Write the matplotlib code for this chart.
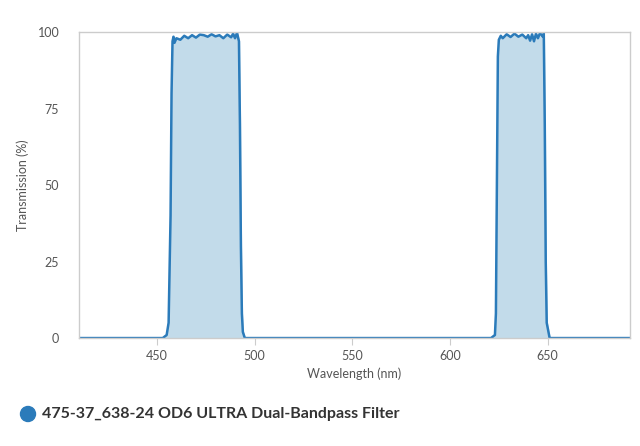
import matplotlib.pyplot as plt

plt.rcParams['font.family'] = ['Lato', 'DejaVu Sans']

wavelength = [410, 453, 455, 456, 457, 457.5, 458, 458.5, 459, 460, 462, 464, 466, 468, 470,
              472, 474, 476, 478, 480, 482, 484, 486, 488, 489, 490, 491, 492, 492.5,
              493, 493.5, 494, 495,
              621, 623, 623.5, 624, 624.5, 625, 626, 627, 629, 631, 633, 635, 637, 639,
              640, 641, 642, 643, 644, 645, 646, 647, 647.5, 648, 648.5, 649, 649.5, 651, 692]
transmission = [0, 0, 1, 5, 40, 80, 97, 98.5, 96.5, 98, 97.5, 98.8, 98, 99, 98.2,
                99.2, 99, 98.5, 99.3, 98.6, 99, 98, 99.2, 98.3, 99.5, 98, 99.8, 97, 70,
                30, 8, 2, 0,
                0, 1, 8, 50, 92, 97.5, 98.8, 98, 99.3, 98.4, 99.5, 98.5, 99.2, 98,
                99, 97.2, 99.3, 97, 99.5, 98, 99.6, 99, 98.5, 99.5, 70, 25, 5, 0, 0]
label = "475-37_638-24 OD6 ULTRA Dual-Bandpass Filter"

fig = plt.figure(figsize=(6.4, 4.46), dpi=100)
ax = fig.add_axes([0.123, 0.242, 0.861, 0.686])

line_color = "#2b7bba"
ax.fill_between(wavelength, transmission, 0, color="#c2dbea")
ax.plot(wavelength, transmission, color=line_color, lw=1.8)

ax.set_xlim(410, 692)
ax.set_ylim(0, 100)
ax.set_xticks([450, 500, 550, 600, 650])
ax.set_yticks([0, 25, 50, 75, 100])
ax.tick_params(axis='x', length=5, color="#cccccc", colors="#555555", labelsize=9)
ax.tick_params(axis='y', length=0, colors="#555555", labelsize=9, pad=14)
for s in ax.spines.values():
    s.set_color("#cccccc")
    s.set_linewidth(1)
ax.set_xlabel("Wavelength (nm)", color="#555555", fontsize=9)
ax.set_ylabel("Transmission (%)", color="#555555", fontsize=9, labelpad=6)

# legend marker, display coords (origin bottom-left)
fig.patches.append(plt.Circle((28, 446 - 414), 7.5, color=line_color, transform=None,
                              figure=fig))
fig.text(42 / 640, 1 - 414 / 446, label, fontsize=11.5, fontweight='bold',
         color="#333333", va='center')

fig.savefig("out.png", dpi=100)
